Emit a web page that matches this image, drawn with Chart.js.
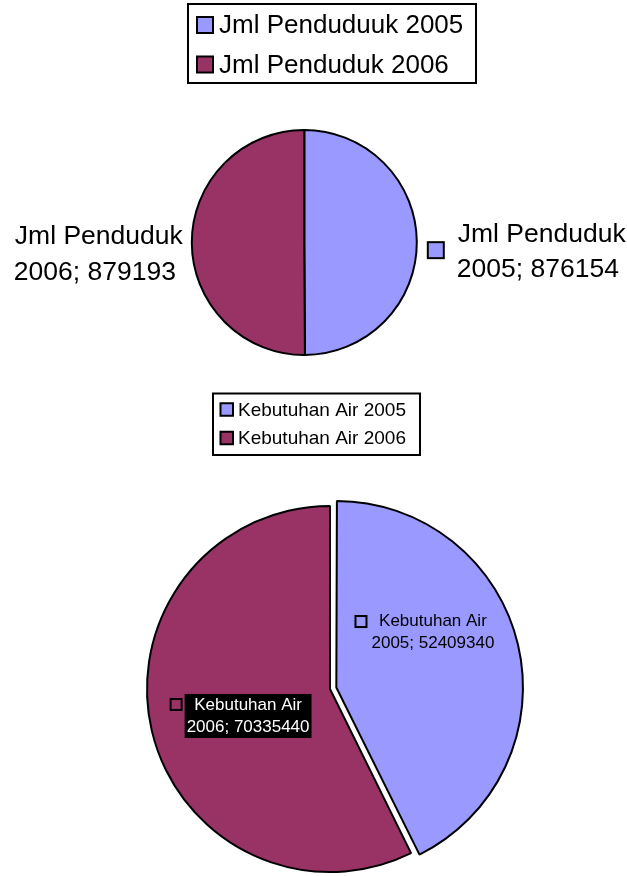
<!DOCTYPE html>
<html><head><meta charset="utf-8">
<script src="https://cdn.jsdelivr.net/npm/chart.js@4.4.1/dist/chart.umd.min.js"></script>
<style>
html,body{margin:0;padding:0;background:#fff;}
#wrap{position:relative;width:627px;height:876px;overflow:hidden;background:#fff;}
canvas{position:absolute;left:0;}
</style></head><body>
<div id="wrap">
<canvas id="c1" width="627" height="380" style="top:0;width:627px;height:380px"></canvas>
<canvas id="c2" width="627" height="496" style="top:380px;width:627px;height:496px"></canvas>
</div>
<script>
// ---- data ----
const pendudukCategories = ['Jml Penduduuk 2005', 'Jml Penduduk 2006'];
const pendudukLabelNames = ['Jml Penduduk 2005', 'Jml Penduduk 2006'];
const pendudukValues = [876154, 879193];

const airCategories = ['Kebutuhan Air 2005', 'Kebutuhan Air 2006'];
const airLabelNames = ['Kebutuhan Air 2005', 'Kebutuhan Air 2006'];
const airValues = [52409340, 70335440];

const sliceColors = ['#9999FF', '#993366'];
const FONT = '"Liberation Sans", Arial, Helvetica, sans-serif';

function splitName(name, value) {
  const k = name.lastIndexOf(' ');
  return [name.slice(0, k), name.slice(k + 1) + '; ' + value];
}

function boxLegend(cfg) {
  return {
    id: 'boxLegend',
    afterDraw(chart) {
      const ctx = chart.ctx;
      const ds = chart.data.datasets[0];
      ctx.save();
      ctx.lineWidth = cfg.lineWidth;
      ctx.strokeStyle = '#000';
      ctx.fillStyle = '#fff';
      ctx.fillRect(cfg.x, cfg.y, cfg.w, cfg.h);
      ctx.strokeRect(cfg.x, cfg.y, cfg.w, cfg.h);
      ctx.font = cfg.fontSize + 'px ' + FONT;
      ctx.textBaseline = 'middle';
      ctx.textAlign = 'left';
      chart.data.labels.forEach((lab, i) => {
        const cy = cfg.firstRow + i * cfg.rowGap;
        ctx.fillStyle = ds.backgroundColor[i];
        ctx.fillRect(cfg.markX, cy - cfg.mark / 2, cfg.mark, cfg.mark);
        ctx.lineWidth = cfg.markLine;
        ctx.strokeRect(cfg.markX, cy - cfg.mark / 2, cfg.mark, cfg.mark);
        ctx.fillStyle = '#000';
        ctx.fillText(lab, cfg.textX, cy + 1);
      });
      ctx.restore();
    }
  };
}

// outside labels for the top pie
const outsideLabels = {
  id: 'outsideLabels',
  afterDatasetsDraw(chart) {
    const ctx = chart.ctx;
    const meta = chart.getDatasetMeta(0);
    const ds = chart.data.datasets[0];
    ctx.save();
    ctx.font = '26.5px ' + FONT;
    ctx.textBaseline = 'alphabetic';
    ctx.textAlign = 'left';
    meta.data.forEach((arc, i) => {
      const p = arc.getProps(['x', 'y', 'startAngle', 'endAngle', 'outerRadius'], true);
      const mid = (p.startAngle + p.endAngle) / 2;
      const ax = p.x + Math.cos(mid) * (p.outerRadius + 10);
      const ay = p.y + Math.sin(mid) * (p.outerRadius + 10);
      const lines = splitName(pendudukLabelNames[i], ds.data[i]);
      if (Math.cos(mid) >= 0) {
        ctx.fillStyle = ds.backgroundColor[i];
        ctx.fillRect(ax + 1, ay, 16, 16);
        ctx.lineWidth = 2;
        ctx.strokeStyle = '#000';
        ctx.strokeRect(ax + 1, ay, 16, 16);
        ctx.fillStyle = '#000';
        ctx.fillText(lines[0], ax + 31, ay);
        ctx.fillText(lines[1], ax + 30, ay + 35);
      } else {
        const w = Math.max(ctx.measureText(lines[0]).width, ctx.measureText(lines[1]).width);
        const x0 = ax - w + 1;
        ctx.fillStyle = '#000';
        ctx.fillText(lines[0], x0, ay + 1);
        ctx.fillText(lines[1], x0 - 1, ay + 37);
      }
    });
    ctx.restore();
  }
};

// inside labels for the bottom pie
const insideLabels = {
  id: 'insideLabels',
  afterDatasetsDraw(chart) {
    const ctx = chart.ctx;
    const meta = chart.getDatasetMeta(0);
    const ds = chart.data.datasets[0];
    const nudges = [[-4, -32], [25, 2]];
    ctx.save();
    ctx.font = '17px ' + FONT;
    ctx.textBaseline = 'middle';
    ctx.textAlign = 'center';
    meta.data.forEach((arc, i) => {
      const p = arc.getProps(['x', 'y', 'startAngle', 'endAngle', 'outerRadius'], true);
      const mid = (p.startAngle + p.endAngle) / 2;
      const cx = p.x + Math.cos(mid) * p.outerRadius * 0.6 + nudges[i][0];
      const cy = p.y + Math.sin(mid) * p.outerRadius * 0.6 + nudges[i][1];
      const lines = splitName(airLabelNames[i], ds.data[i]);
      const w = Math.max(ctx.measureText(lines[0]).width, ctx.measureText(lines[1]).width);
      const dark = i === 1;
      if (dark) {
        ctx.fillStyle = '#000';
        ctx.fillRect(cx - w / 2 - 2, cy - 22, w + 4, 44);
      }
      const mx = cx - w / 2 - 16;
      const my = dark ? cy - 17 : cy - 16;
      ctx.fillStyle = ds.backgroundColor[i];
      ctx.fillRect(mx, my, 11, 11);
      ctx.lineWidth = 2;
      ctx.strokeStyle = '#000';
      ctx.strokeRect(mx, my, 11, 11);
      ctx.fillStyle = dark ? '#fff' : '#000';
      ctx.fillText(lines[0], cx, cy - 11);
      ctx.fillText(lines[1], cx, cy + 11);
    });
    ctx.restore();
  }
};

const commonOpts = (pad) => ({
  responsive: false,
  animation: false,
  devicePixelRatio: 1,
  layout: { padding: pad },
  plugins: { legend: { display: false }, tooltip: { enabled: false } },
  events: []
});

new Chart(document.getElementById('c1'), {
  type: 'pie',
  data: {
    labels: pendudukCategories,
    datasets: [{
      data: pendudukValues,
      backgroundColor: sliceColors,
      borderColor: '#000',
      borderWidth: 2,
      radius: 112.5,
      clip: false
    }]
  },
  options: commonOpts({ left: 0, right: 18.4, top: 130, bottom: 25 }),
  plugins: [boxLegend({
    x: 188, y: 4, w: 288, h: 79, lineWidth: 2,
    fontSize: 26, firstRow: 25, rowGap: 39.5,
    markX: 197, mark: 16, markLine: 2, textX: 219
  }), outsideLabels]
});

new Chart(document.getElementById('c2'), {
  type: 'pie',
  data: {
    labels: airCategories,
    datasets: [{
      data: airValues,
      backgroundColor: sliceColors,
      borderColor: '#000',
      borderWidth: 2,
      radius: 183,
      offset: [26, 0],
      clip: false
    }]
  },
  options: commonOpts({ left: 33, right: 0, top: 130, bottom: 8 }),
  plugins: [boxLegend({
    x: 213, y: 13.5, w: 207, h: 61.5, lineWidth: 2,
    fontSize: 19, firstRow: 29.5, rowGap: 28.5,
    markX: 220.5, mark: 12.5, markLine: 2, textX: 238
  }), insideLabels]
});
</script>
</body></html>
